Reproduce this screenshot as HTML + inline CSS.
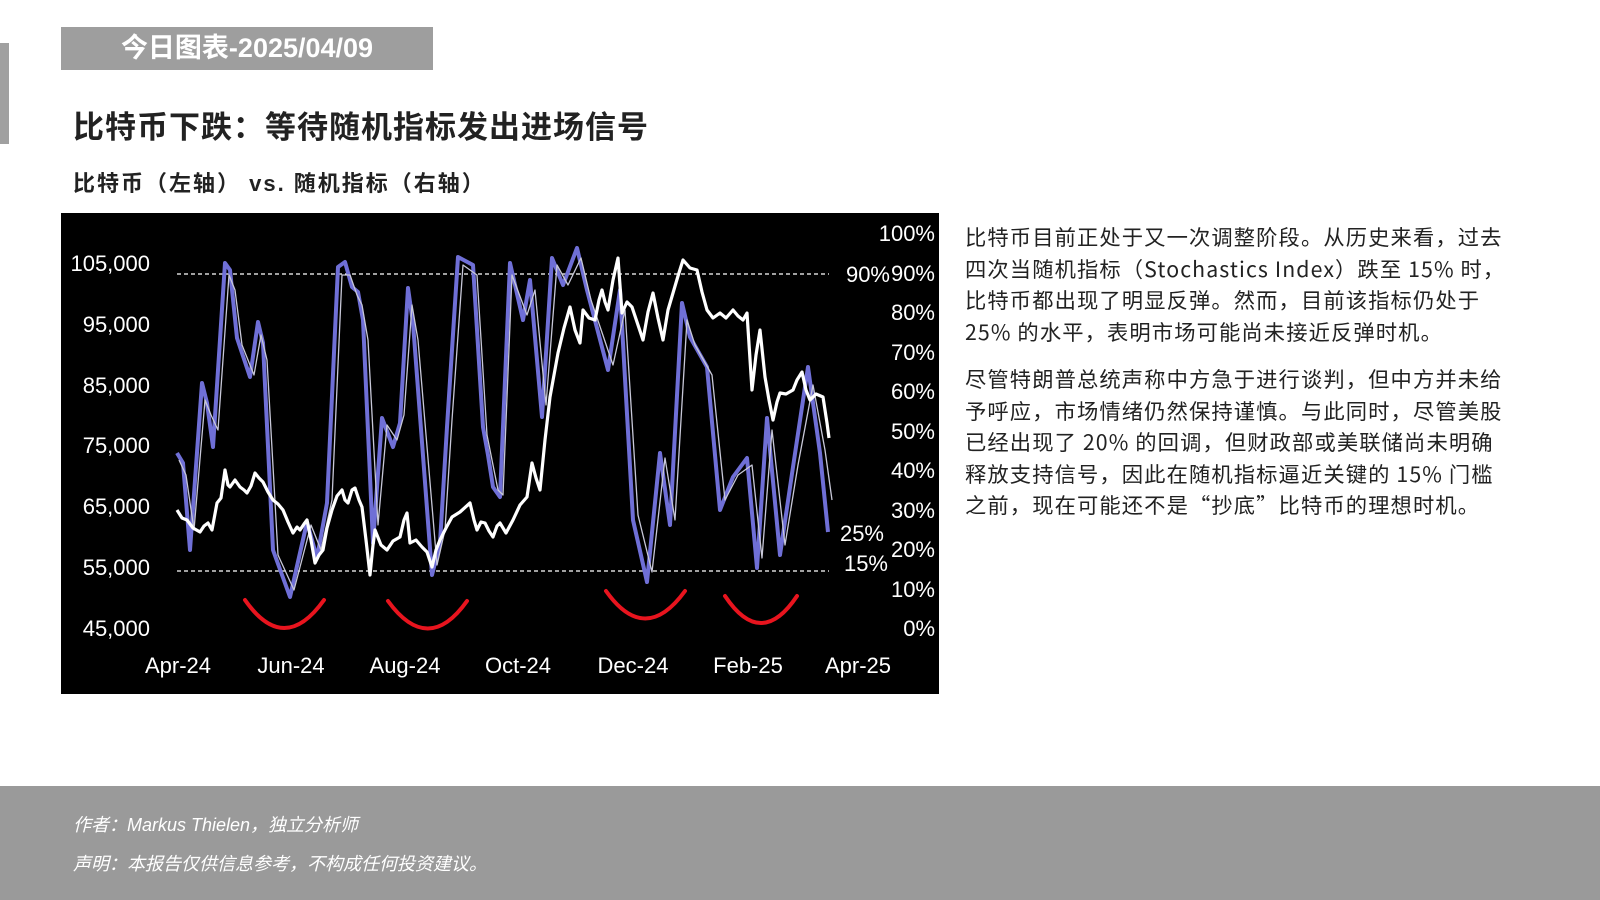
<!DOCTYPE html>
<html><head><meta charset="utf-8"><style>
*{margin:0;padding:0}
body{width:1600px;height:900px;background:#fff;position:relative;overflow:hidden;font-family:"Liberation Sans","Noto Sans CJK SC",sans-serif;color:#222}
.a{position:absolute;white-space:nowrap}
.p{position:absolute;left:965px;width:600px;font-size:21.3px;letter-spacing:1.1px;line-height:31.6px;color:#222;white-space:nowrap;font-family:"Noto Sans CJK SC",sans-serif}
.f{position:absolute;left:73px;color:#fff;font-style:italic;font-size:18px}
</style></head><body>
<div class="a" style="left:0;top:43px;width:9px;height:101px;background:#a0a0a0"></div>
<div class="a" style="left:61px;top:27px;width:372px;height:43px;background:#9e9e9e;color:#fff;font-weight:bold;font-size:27px;line-height:43px;text-align:center">今日图表-2025/04/09</div>
<div class="a" style="left:73px;top:108px;font-size:31px;letter-spacing:1px;font-weight:bold;line-height:40px">比特币下跌：等待随机指标发出进场信号</div>
<div class="a" style="left:73px;top:170px;font-size:22px;letter-spacing:2px;font-weight:bold;line-height:28px">比特币（左轴） vs. 随机指标（右轴）</div>

<svg class="a" style="left:0;top:0" width="1600" height="900">
<rect x="61" y="213" width="878" height="481" fill="#000"/>
<g fill="#fff" font-family="Liberation Sans,sans-serif" font-size="22">
<g text-anchor="end">
<text x="150" y="271">105,000</text><text x="150" y="332">95,000</text><text x="150" y="393">85,000</text>
<text x="150" y="453">75,000</text><text x="150" y="514">65,000</text><text x="150" y="575">55,000</text><text x="150" y="636">45,000</text>
<text x="935" y="241">100%</text><text x="935" y="281">90%</text><text x="935" y="320">80%</text><text x="935" y="360">70%</text>
<text x="935" y="399">60%</text><text x="935" y="439">50%</text><text x="935" y="478">40%</text><text x="935" y="518">30%</text>
<text x="935" y="557">20%</text><text x="935" y="597">10%</text><text x="935" y="636">0%</text>
<text x="890" y="282">90%</text><text x="884" y="541">25%</text><text x="888" y="571">15%</text>
</g>
<g text-anchor="middle">
<text x="178" y="673">Apr-24</text><text x="291" y="673">Jun-24</text><text x="405" y="673">Aug-24</text><text x="518" y="673">Oct-24</text>
<text x="633" y="673">Dec-24</text><text x="748" y="673">Feb-25</text><text x="858" y="673">Apr-25</text>
</g></g>
<line x1="177" y1="274" x2="829" y2="274" stroke="#fff" stroke-width="1.3" stroke-dasharray="4,3"/>
<line x1="177" y1="571" x2="829" y2="571" stroke="#fff" stroke-width="1.3" stroke-dasharray="4,3"/>
<g fill="none" stroke="#e8141e" stroke-width="4" stroke-linecap="round">
<path d="M245 600 Q284 656 324 600"/><path d="M388 601 Q428 656 467 601"/>
<path d="M606 591 Q645 646 685 591"/><path d="M725 596 Q761 650 797 596"/>
</g>
<polyline fill="none" stroke="#6f6fd6" stroke-width="4" stroke-linejoin="round" points="177,453 183,463 190,550 202,383 207,403 213,447 225,263 230,270 237,338 250,377 258,322 263,343 273,550 290,597 307,522 317,558 327,503 338,267 345,262 352,287 358,292 363,320 373,543 382,418 393,447 400,423 408,288 413,323 432,575 440,543 447,427 458,257 473,265 483,427 488,455 493,487 500,497 510,263 523,320 530,280 542,417 552,258 563,285 577,248 587,290 608,370 620,290 633,520 647,582 660,453 670,525 682,303 690,337 707,367 720,510 733,477 747,458 757,568 767,418 780,555 793,467 808,367 820,453 828,532"/>
<polyline fill="none" stroke="#c8c8d8" stroke-width="1.3" stroke-linejoin="round" points="179,460 186,475 194,530 205,400 211,415 218,430 229,275 235,290 242,345 254,375 261,335 267,360 278,555 294,590 311,525 321,550 332,500 342,275 350,275 357,295 362,305 368,340 378,525 387,425 397,440 404,415 412,305 418,340 437,565 445,530 452,420 463,265 477,275 487,435 492,460 498,490 503,495 512,275 527,315 535,290 546,405 557,265 568,285 581,258 591,300 613,365 625,310 638,515 652,572 665,458 675,520 687,320 695,345 712,375 725,500 738,475 752,465 762,558 772,430 785,545 798,465 813,385 825,450 832,500"/>
<polyline fill="none" stroke="#fff" stroke-width="3.2" stroke-linejoin="round" points="177,510 182,518 187,520 193,528 200,532 204,526 208,523 212,530 217,503 221,498 225,470 228,485 230,487 235,480 240,487 244,490 247,493 251,486 255,473 259,478 263,482 268,492 273,500 278,504 283,510 288,522 293,533 297,527 300,530 304,524 307,520 311,540 315,563 319,555 323,550 327,528 332,510 337,496 342,490 345,500 348,503 352,490 355,488 359,500 362,507 366,540 370,575 373,545 375,530 381,545 387,550 393,541 400,537 404,520 407,513 410,543 416,540 422,547 427,552 432,567 436,550 440,540 446,528 452,517 460,512 470,503 474,520 477,530 481,522 485,523 489,531 493,537 497,526 500,523 506,533 513,520 520,505 527,497 532,463 536,478 540,490 545,440 550,397 554,375 558,353 564,328 570,307 575,330 580,343 583,310 589,318 595,320 599,300 602,290 605,302 608,310 613,280 618,258 622,313 627,302 632,307 637,322 643,340 648,312 653,293 658,318 663,340 668,310 673,293 678,276 683,260 690,268 697,270 702,292 707,310 713,318 720,313 726,318 733,310 738,316 743,320 747,313 752,390 756,355 760,330 765,377 769,400 773,420 777,402 780,393 786,394 793,390 797,380 802,372 806,390 810,400 816,394 823,397 827,423 829,438"/>
</svg>

<div class="p" style="top:221px">比特币目前正处于又一次调整阶段。从历史来看，过去<br>四次当随机指标（Stochastics Index）跌至 15% 时，<br>比特币都出现了明显反弹。然而，目前该指标仍处于<br>25% 的水平，表明市场可能尚未接近反弹时机。</div>
<div class="p" style="top:363px">尽管特朗普总统声称中方急于进行谈判，但中方并未给<br>予呼应，市场情绪仍然保持谨慎。与此同时，尽管美股<br>已经出现了 20% 的回调，但财政部或美联储尚未明确<br>释放支持信号，因此在随机指标逼近关键的 15% 门槛<br>之前，现在可能还不是“抄底”比特币的理想时机。</div>

<div class="a" style="left:0;top:786px;width:1600px;height:114px;background:#9a9a9a"></div>
<div class="f" style="top:811px">作者：Markus Thielen，独立分析师</div>
<div class="f" style="top:850px">声明：本报告仅供信息参考，不构成任何投资建议。</div>
</body></html>
